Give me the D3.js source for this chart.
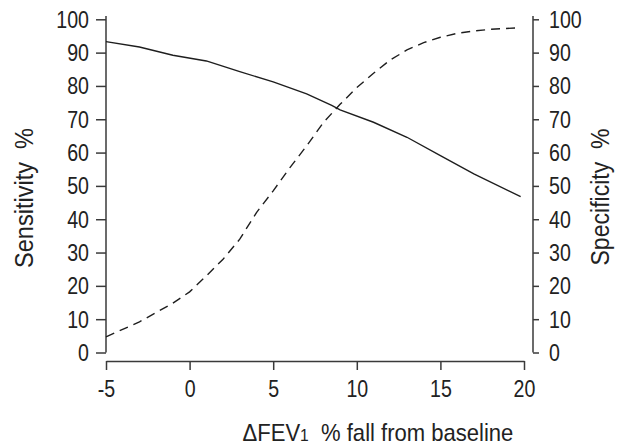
<!DOCTYPE html>
<html><head><meta charset="utf-8">
<script src="https://cdn.jsdelivr.net/npm/d3@7"></script>
<style>
html,body{margin:0;padding:0;background:#fff;}
svg{display:block;}
text{font-family:"Liberation Sans",Arial,sans-serif;fill:#222;}
</style></head>
<body>
<svg id="c" width="624" height="448"></svg>
<script>
const xTicks = [-5, 0, 5, 10, 15, 20];
const yTicks = [0, 10, 20, 30, 40, 50, 60, 70, 80, 90, 100];
const sensX = [-5, -3, -1, 1, 3, 5, 7, 8.5, 9, 11, 13, 15, 17, 19.8];
const sensY = [93.3, 91.7, 89.2, 87.5, 84.3, 81.2, 77.6, 74.2, 72.8, 69.1, 64.6, 59.1, 53.6, 46.8];
const specX = [-5, -3, -1, 0, 1, 2, 3, 4, 5, 6, 7, 8, 9, 10, 11, 12, 13, 14, 15, 16, 17, 18, 19.8];
const specY = [4.7, 9.2, 14.8, 18.2, 23, 28, 34, 42, 48.5, 55.5, 62, 69, 74.5, 79.5, 83.8, 87.8, 90.8, 93, 94.6, 95.8, 96.5, 97, 97.5];

const svg = d3.select("#c");
const x = d3.scaleLinear().domain([-5, 20]).range([106, 524]);
const y = d3.scaleLinear().domain([0, 100]).range([352.5, 19.3]);
const axisColor = "#3a3a3a";
const sx = 0.8; // horizontal condensing of tick labels

// X axis
const gx = svg.append("g").attr("transform", "translate(0,361)")
  .call(d3.axisBottom(x).tickValues(xTicks).tickSize(9).tickSizeOuter(0).tickPadding(10));
// Left axis
const gl = svg.append("g").attr("transform", "translate(106,0)")
  .call(d3.axisLeft(y).tickValues(yTicks).tickSize(10).tickSizeOuter(0).tickPadding(7));
// Right axis
const gr = svg.append("g").attr("transform", "translate(533,0)")
  .call(d3.axisRight(y).tickValues(yTicks).tickSize(6).tickSizeOuter(0).tickPadding(10));

[gl, gr].forEach(g => g.select(".domain").remove());
[gl, gr].forEach(g => g.append("line").attr("x1", 0).attr("x2", 0)
  .attr("y1", y(0)).attr("y2", y(101)).attr("stroke", axisColor).attr("stroke-width", 1.5));
[gx, gl, gr].forEach(g => {
  g.attr("font-family", null).attr("font-size", null);
  g.selectAll(".domain").attr("stroke", axisColor).attr("stroke-width", 1.5);
  g.selectAll(".tick line").attr("stroke", axisColor).attr("stroke-width", 1.5);
  g.selectAll(".tick text").attr("font-size", 24.5).style("fill", "#222")
    .attr("x", function() { return (+d3.select(this).attr("x") || 0) / sx; })
    .attr("transform", `scale(${sx},1)`);
});
gx.selectAll(".tick text").text(d => d < 0 ? "-" + Math.abs(d) : d);

// lines
const line = d3.line().x(d => x(d[0])).y(d => y(d[1]));
svg.append("path").datum(sensX.map((v, i) => [v, sensY[i]]))
  .attr("d", line).attr("fill", "none").attr("stroke", "#1e1e1e").attr("stroke-width", 1.4);
svg.append("path").datum(specX.map((v, i) => [v, specY[i]]))
  .attr("d", line).attr("fill", "none").attr("stroke", "#1e1e1e").attr("stroke-width", 1.4)
  .attr("stroke-dasharray", "9,6");

// titles
svg.append("text").attr("transform", "translate(33,198) rotate(-90)")
  .attr("text-anchor", "middle").attr("font-size", 26).attr("xml:space", "preserve")
  .attr("textLength", 140).attr("lengthAdjust", "spacingAndGlyphs")
  .text("Sensitivity  %");
svg.append("text").attr("transform", "translate(609,197) rotate(-90)")
  .attr("text-anchor", "middle").attr("font-size", 26).attr("xml:space", "preserve")
  .attr("textLength", 137).attr("lengthAdjust", "spacingAndGlyphs")
  .text("Specificity  %");
const xt = svg.append("text").attr("transform", "translate(242.5,441) scale(0.919,1)")
  .attr("font-size", 24).attr("xml:space", "preserve");
xt.append("tspan").text("\u0394FEV");
xt.append("tspan").attr("font-size", 17).text("1");
xt.append("tspan").text("  % fall from baseline");
</script>
</body></html>
